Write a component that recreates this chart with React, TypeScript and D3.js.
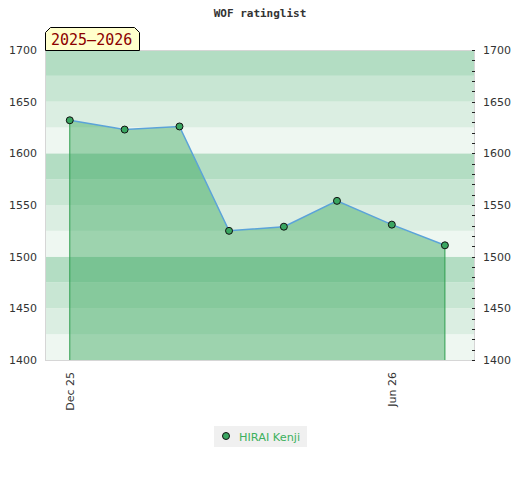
import * as d3 from 'd3'
import React, { useEffect, useRef } from 'react'

// ratings, one per month
const months = ['2025-12-01', '2026-01-01', '2026-02-01', '2026-03-01', '2026-04-01', '2026-05-01', '2026-06-01', '2026-07-01']
const ratings = [1632, 1623, 1626, 1525, 1529, 1554, 1531, 1511]
const xTicks = ['2025-12-01', '2026-06-01']
const xTickLabels = ['Dec 25', 'Jun 26']
const yTicks = [1400, 1450, 1500, 1550, 1600, 1650, 1700]
const seriesName = 'HIRAI Kenji'
const seasonLabel = '2025–2026'
const title = 'WOF ratinglist'

const W = 520
const H = 480
const plot = { left: 45, right: 475, top: 50, bottom: 360 }
const bandColors = ['#b3ddc3', '#c8e6d3', '#dbeee2', '#eef7f1'] // top to bottom within each 100
const green = '#3aa661'
const parse = d3.timeParse('%Y-%m-%d')

export default function App() {
    const ref = useRef<SVGSVGElement>(null)
    useEffect(() => {
        const svg = d3.select(ref.current)
        svg.selectAll('*').remove()

        const x = d3.scaleTime()
            .domain([parse('2025-11-17')!, parse('2026-07-18')!])
            .range([plot.left, plot.right])
        const y = d3.scaleLinear().domain([1400, 1700]).range([plot.bottom, plot.top])
        const pts = months.map((m, i) => ({ d: parse(m)!, v: ratings[i] }))

        // striped background, 25 points per band
        const bands = d3.range(1400, 1700, 25)
        svg.append('g')
            .selectAll('rect')
            .data(bands)
            .join('rect')
            .attr('x', plot.left)
            .attr('width', plot.right - plot.left)
            .attr('y', d => y(d + 25))
            .attr('height', d => y(d) - y(d + 25))
            .attr('fill', d => bandColors[3 - ((d - 1400) % 100) / 25])

        svg.append('rect')
            .attr('x', plot.left + 0.5).attr('y', plot.top + 0.5)
            .attr('width', plot.right - plot.left - 1).attr('height', plot.bottom - plot.top)
            .attr('fill', 'none').attr('stroke', '#d6d6d6')

        const area = d3.area<{ d: Date, v: number }>()
            .x(p => x(p.d)).y0(plot.bottom).y1(p => y(p.v))
        svg.append('path')
            .attr('d', area(pts))
            .attr('fill', 'rgba(34,158,76,0.4)')

        // vertical lines at first and last points
        const ends = [pts[0], pts[pts.length - 1]]
        svg.selectAll('line.edge')
            .data(ends)
            .join('line')
            .attr('class', 'edge')
            .attr('x1', p => x(p.d)).attr('x2', p => x(p.d))
            .attr('y1', p => y(p.v)).attr('y2', plot.bottom)
            .attr('stroke', '#2f9e4f').attr('stroke-width', 1)

        const line = d3.line<{ d: Date, v: number }>().x(p => x(p.d)).y(p => y(p.v))
        svg.append('path')
            .attr('d', line(pts))
            .attr('fill', 'none')
            .attr('stroke', '#5ba3d9')
            .attr('stroke-width', 1.5)

        svg.append('g')
            .selectAll('circle')
            .data(pts)
            .join('circle')
            .attr('cx', p => x(p.d)).attr('cy', p => y(p.v))
            .attr('r', 3.5)
            .attr('fill', green).attr('stroke', '#111').attr('stroke-width', 1)

        // left axis labels
        svg.append('g')
            .selectAll('text')
            .data(yTicks)
            .join('text')
            .attr('x', 37).attr('y', d => y(d) + 4)
            .attr('text-anchor', 'end')
            .attr('font-family', 'DejaVu Sans').attr('font-size', 11).attr('fill', '#333')
            .text(d => d)

        // right axis: minor ticks every 10, labels every 50
        svg.append('g')
            .selectAll('line')
            .data(y.ticks(30))
            .join('line')
            .attr('x1', plot.right - 3).attr('x2', plot.right)
            .attr('y1', d => Math.round(y(d)) + 0.5).attr('y2', d => Math.round(y(d)) + 0.5)
            .attr('stroke', '#222')
        svg.append('g')
            .selectAll('text')
            .data(yTicks)
            .join('text')
            .attr('x', 483).attr('y', d => y(d) + 4)
            .attr('font-family', 'DejaVu Sans').attr('font-size', 11).attr('fill', '#333')
            .text(d => d)

        // x labels, rotated
        svg.append('g')
            .selectAll('text')
            .data(xTicks)
            .join('text')
            .attr('transform', d => `translate(${x(parse(d)!) + 4},${plot.bottom + 12}) rotate(-90)`)
            .attr('text-anchor', 'end')
            .attr('font-family', 'DejaVu Sans').attr('font-size', 11).attr('fill', '#333')
            .text((d, i) => xTickLabels[i])

        // title
        svg.append('text')
            .attr('x', W / 2).attr('y', 17)
            .attr('text-anchor', 'middle')
            .attr('font-family', 'DejaVu Sans Mono').attr('font-weight', 'bold')
            .attr('font-size', 11).attr('fill', '#333')
            .text(title)

        // season tag
        const tag = { x0: 45.5, x1: 139.5, y0: 27.5, y1: 50.5, c: 5 }
        svg.append('path')
            .attr('d', `M${tag.x0},${tag.y1} L${tag.x0},${tag.y0 + tag.c} L${tag.x0 + tag.c},${tag.y0} L${tag.x1 - tag.c},${tag.y0} L${tag.x1},${tag.y0 + tag.c} L${tag.x1},${tag.y1} Z`)
            .attr('fill', '#ffffcc').attr('stroke', '#000').attr('stroke-width', 1)
        svg.append('text')
            .attr('x', 51).attr('y', 45)
            .attr('font-family', 'DejaVu Sans Mono').attr('font-size', 15).attr('fill', '#8b0000')
            .text(seasonLabel)

        // legend
        const lg = svg.append('g').attr('transform', 'translate(214,426)')
        lg.append('rect').attr('width', 93).attr('height', 21).attr('fill', '#f0f0f0')
        lg.append('circle').attr('cx', 12).attr('cy', 10).attr('r', 3.5)
            .attr('fill', green).attr('stroke', '#111')
        lg.append('text').attr('x', 25).attr('y', 14.5)
            .attr('font-family', 'DejaVu Sans').attr('font-size', 11.3).attr('fill', '#3cb05e')
            .text(seriesName)
    }, [])
    return (
        <svg ref={ref} width={W} height={H} viewBox={`0 0 ${W} ${H}`}
            style={{ position: 'absolute', left: 0, top: 0, background: '#fff' }}></svg>
    )
}
